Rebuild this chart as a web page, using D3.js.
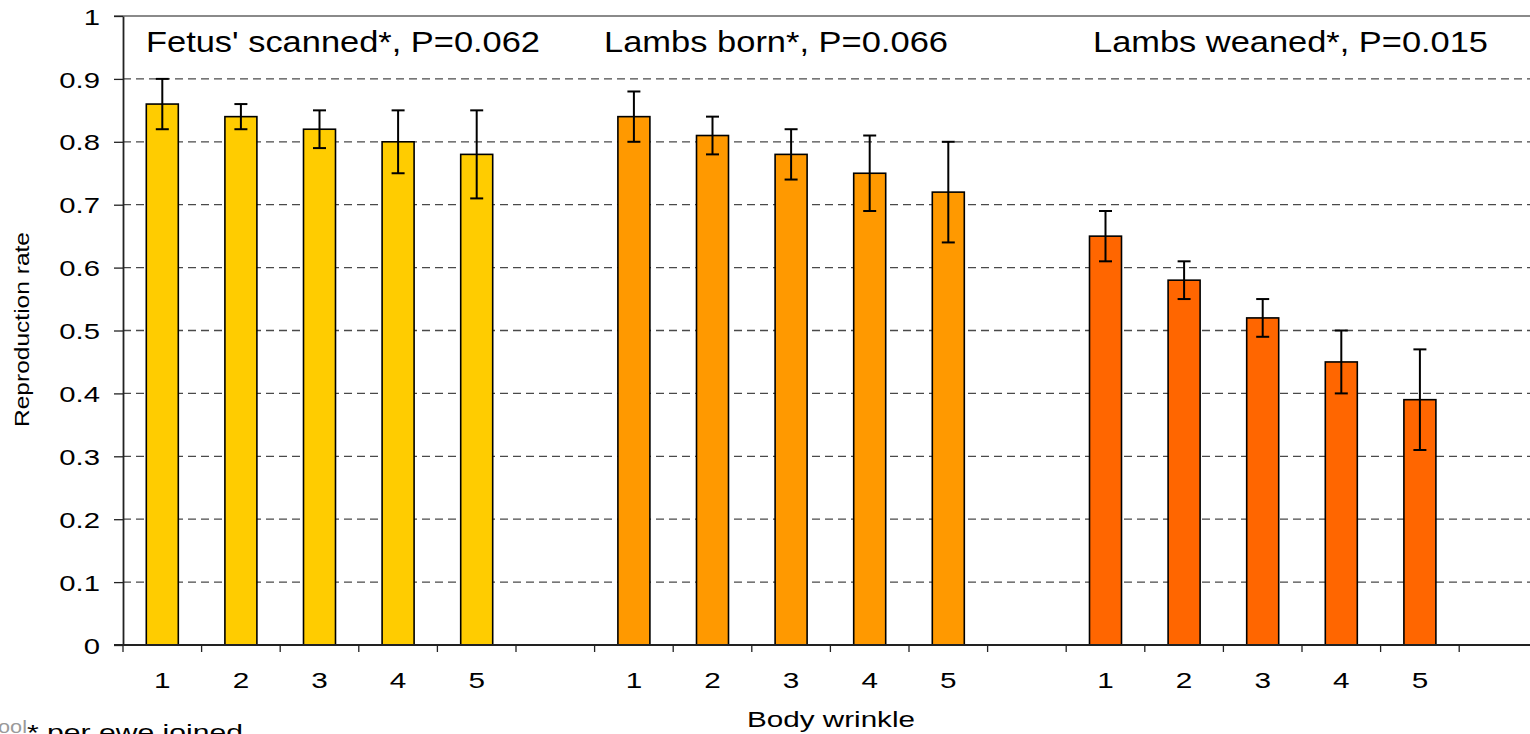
<!DOCTYPE html>
<html>
<head>
<meta charset="utf-8">
<script src="https://cdn.jsdelivr.net/npm/d3@7"></script>
<style>
  html, body { margin: 0; padding: 0; background: #fff; overflow: hidden; }
  svg { display: block; font-family: "Liberation Sans", Arial, sans-serif; }
</style>
</head>
<body>
<svg id="chart" width="1530" height="734"></svg>
<script>
// ---------- data ----------
const wrinkleScores = ["1", "2", "3", "4", "5"];
const measures = ["Fetus' scanned*", "Lambs born*", "Lambs weaned*"];
const pValues = ["P=0.062", "P=0.066", "P=0.015"];

const fetusScanned     = [0.86, 0.84, 0.82, 0.80, 0.78];
const fetusScannedLow  = [0.82, 0.82, 0.79, 0.75, 0.71];
const fetusScannedHigh = [0.90, 0.86, 0.85, 0.85, 0.85];

const lambsBorn     = [0.84, 0.81, 0.78, 0.75, 0.72];
const lambsBornLow  = [0.80, 0.78, 0.74, 0.69, 0.64];
const lambsBornHigh = [0.88, 0.84, 0.82, 0.81, 0.80];

const lambsWeaned     = [0.65, 0.58, 0.52, 0.45, 0.39];
const lambsWeanedLow  = [0.61, 0.55, 0.49, 0.40, 0.31];
const lambsWeanedHigh = [0.69, 0.61, 0.55, 0.50, 0.47];

const yTicks = [0, 0.1, 0.2, 0.3, 0.4, 0.5, 0.6, 0.7, 0.8, 0.9, 1];
const yTickLabels = ["0", "0.1", "0.2", "0.3", "0.4", "0.5", "0.6", "0.7", "0.8", "0.9", "1"];

const xTitle = "Body wrinkle";
const yTitle = "Reproduction rate";
const footnote = "* per ewe joined";
const sourceText = "Wool";

(function () {
// ---------- build table ----------
const seriesValues = [fetusScanned, lambsBorn, lambsWeaned];
const seriesLow = [fetusScannedLow, lambsBornLow, lambsWeanedLow];
const seriesHigh = [fetusScannedHigh, lambsBornHigh, lambsWeanedHigh];
const colors = ["#FFCC00", "#FF9900", "#FF6600"];

const slots = [];
const bars = [];
measures.forEach((m, g) => {
  wrinkleScores.forEach((w, i) => {
    const id = g + "-" + w;
    slots.push({ id, label: w });
    bars.push({ id, g, value: seriesValues[g][i], low: seriesLow[g][i], high: seriesHigh[g][i] });
  });
  slots.push({ id: g + "-gap", label: "" });
});

// ---------- layout ----------
const svg = d3.select("#chart");
const plotLeft = 123, plotTop = 16, plotBottom = 645;
const step = 78.6;
const x = d3.scaleBand().domain(slots.map(s => s.id)).range([plotLeft, plotLeft + step * slots.length]).padding(0);
const y = d3.scaleLinear().domain([0, 1]).range([plotBottom, plotTop]);
const barW = 32;
const rightEdge = 1540;

// gridlines
svg.append("g").selectAll("line")
  .data(yTicks.filter(v => v > 0 && v < 1))
  .join("line")
  .attr("x1", plotLeft).attr("x2", rightEdge)
  .attr("y1", d => y(d)).attr("y2", d => y(d))
  .attr("stroke", "#4a4a4a").attr("stroke-width", 1.3)
  .attr("stroke-dasharray", "8,5");

// top border line at 1
svg.append("line")
  .attr("x1", plotLeft - 9).attr("x2", rightEdge)
  .attr("y1", y(1)).attr("y2", y(1))
  .attr("stroke", "#8a8a8a").attr("stroke-width", 2);

// bars
svg.append("g").selectAll("rect")
  .data(bars)
  .join("rect")
  .attr("x", d => x(d.id) + (x.bandwidth() - barW) / 2)
  .attr("width", barW)
  .attr("y", d => y(d.value))
  .attr("height", d => y(0) - y(d.value))
  .attr("fill", d => colors[d.g])
  .attr("stroke", "#000").attr("stroke-width", 1.6);

// error bars
const eb = svg.append("g").attr("stroke", "#000").attr("stroke-width", 2);
const cx = d => x(d.id) + x.bandwidth() / 2;
eb.selectAll("line.v").data(bars).join("line").attr("class", "v")
  .attr("x1", cx).attr("x2", cx)
  .attr("y1", d => y(d.high)).attr("y2", d => y(d.low));
eb.selectAll("line.t").data(bars).join("line").attr("class", "t")
  .attr("x1", d => cx(d) - 6.5).attr("x2", d => cx(d) + 6.5)
  .attr("y1", d => y(d.high)).attr("y2", d => y(d.high));
eb.selectAll("line.b").data(bars).join("line").attr("class", "b")
  .attr("x1", d => cx(d) - 6.5).attr("x2", d => cx(d) + 6.5)
  .attr("y1", d => y(d.low)).attr("y2", d => y(d.low));

// y axis
const yAxis = svg.append("g")
  .attr("transform", `translate(${plotLeft},0)`)
  .call(d3.axisLeft(y).tickValues(yTicks).tickFormat((d, i) => yTickLabels[i]).tickSize(9).tickSizeOuter(0));
yAxis.select(".domain").attr("stroke", "#222").attr("stroke-width", 1.8);
yAxis.selectAll(".tick line").attr("stroke", "#222").attr("stroke-width", 1.3);
yAxis.selectAll(".tick text")
  .attr("font-size", 22).attr("fill", "#000")
  .attr("font-family", "'Liberation Sans', Arial, sans-serif")
  .attr("x", -23 / 1.33).attr("dy", "0.37em")
  .attr("transform", "scale(1.33,1)");

// x axis (labels)
const xAxis = svg.append("g")
  .attr("transform", `translate(0,${plotBottom})`)
  .call(d3.axisBottom(x).tickFormat(id => slots.find(s => s.id === id).label).tickSize(0).tickSizeOuter(0));
xAxis.select(".domain").remove();
xAxis.selectAll(".tick text")
  .attr("font-size", 22).attr("fill", "#000")
  .attr("font-family", "'Liberation Sans', Arial, sans-serif")
  .attr("y", 43).attr("dy", 0)
  .attr("transform", "scale(1.35,1)");

// x axis line and boundary ticks
svg.append("line")
  .attr("x1", plotLeft - 9).attr("x2", rightEdge)
  .attr("y1", plotBottom).attr("y2", plotBottom)
  .attr("stroke", "#222").attr("stroke-width", 1.8);
const boundaries = slots.map(s => x(s.id)).concat([x.range()[1]]);
svg.append("g").selectAll("line")
  .data(boundaries)
  .join("line")
  .attr("x1", d => d).attr("x2", d => d)
  .attr("y1", plotBottom).attr("y2", plotBottom + 7)
  .attr("stroke", "#222").attr("stroke-width", 1.3);

// annotations
const annX = [146, 604, 1093];
const annLen = [394, 344, 395];
svg.append("g").selectAll("text")
  .data(measures)
  .join("text")
  .attr("x", (d, i) => annX[i]).attr("y", 52)
  .attr("font-size", 29).attr("fill", "#000")
  .attr("textLength", (d, i) => annLen[i]).attr("lengthAdjust", "spacingAndGlyphs")
  .text((d, i) => d + ", " + pValues[i]);

// axis titles
svg.append("text")
  .attr("x", 747).attr("y", 727)
  .attr("font-size", 21.5).attr("fill", "#000")
  .attr("textLength", 168).attr("lengthAdjust", "spacingAndGlyphs")
  .text(xTitle);

svg.append("text")
  .attr("transform", "translate(29,329.5) rotate(-90)")
  .attr("text-anchor", "middle")
  .attr("font-size", 19.5).attr("fill", "#000")
  .attr("textLength", 195).attr("lengthAdjust", "spacingAndGlyphs")
  .text(yTitle);

// footnote
svg.append("text")
  .attr("x", -22).attr("y", 733)
  .attr("font-size", 18).attr("fill", "#9a9a9a")
  .attr("textLength", 49).attr("lengthAdjust", "spacingAndGlyphs")
  .text(sourceText);
svg.append("text")
  .attr("x", 27).attr("y", 740)
  .attr("font-size", 22).attr("fill", "#000")
  .attr("textLength", 216).attr("lengthAdjust", "spacingAndGlyphs")
  .text(footnote);
})();
</script>
</body>
</html>
